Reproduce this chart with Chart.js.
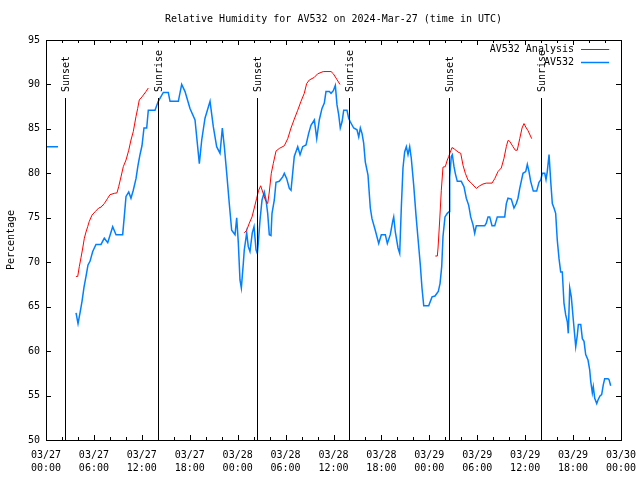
<!DOCTYPE html>
<html lang="en">
<head>
  <meta charset="UTF-8">
  <title>Relative Humidity AV532</title>
  <script src="https://cdn.jsdelivr.net/npm/chart.js"></script>
  <style>
    html, body { margin: 0; padding: 0; background: #fff; }
    canvas { display: block; }
  </style>
</head>
<body>
  <canvas id="rh" width="640" height="480"></canvas>

  <script>
    // hours since 2024-03-27 00:00 UTC
    const dayLabels = ['03/27', '03/27', '03/27', '03/27', '03/28', '03/28', '03/28', '03/28', '03/29', '03/29', '03/29', '03/29', '03/30'];
    const timeLabels = ['00:00', '06:00', '12:00', '18:00', '00:00', '06:00', '12:00', '18:00', '00:00', '06:00', '12:00', '18:00', '00:00'];

    const sunHours = [2.42, 14.06, 26.46, 37.98, 50.5, 62.02];
    const sunNames = ['Sunset', 'Sunrise', 'Sunset', 'Sunrise', 'Sunset', 'Sunrise'];

    // AV532 observations (null = gap)
    const obsHours = [0, 1.5, 1.6,
      3.76, 4.01, 4.26, 4.51, 4.76, 5.01, 5.26, 5.51, 5.85, 6.26, 6.89, 7.30, 7.73, 8.35, 8.77, 9.60, 9.80, 10.02,
      10.36, 10.64, 10.93, 11.27, 11.52, 11.77, 12.02, 12.27, 12.61, 12.81, 13.65, 14.06, 14.69, 15.31, 15.53, 16.57,
      16.99, 17.41, 18.03, 18.66, 19.20, 19.50, 19.91, 20.54, 20.95, 21.37, 21.79, 22.08, 22.33, 22.63, 22.95, 23.25,
      23.67, 23.88, 24.08, 24.29, 24.46, 24.71, 24.83, 25.13, 25.33, 25.54, 25.83, 26.05, 26.30, 26.46, 26.58, 26.80,
      27.05, 27.34, 27.55, 27.76, 27.96, 28.17, 28.30, 28.59, 28.80, 29.21, 29.64, 29.84, 30.14, 30.47, 30.68, 31.09,
      31.52, 31.81, 32.14, 32.56, 32.89, 33.18, 33.60, 33.90, 34.22, 34.56, 34.85, 35.06, 35.48, 35.69, 35.98, 36.23,
      36.44, 36.65, 36.85, 37.07, 37.28, 37.69, 37.90, 38.10, 38.53, 38.94, 39.16, 39.36, 39.57, 39.78, 39.98, 40.32,
      40.61, 40.82, 41.23, 41.66, 41.99, 42.49, 42.74, 43.11, 43.41, 43.54, 43.74, 44.08, 44.29, 44.49, 44.70, 44.91,
      45.12, 45.33, 45.54, 45.74, 46.04, 46.33, 46.58, 46.87, 47.08, 47.30, 47.92, 48.34, 48.71, 49.12, 49.34, 49.55,
      49.71, 49.96, 50.25, 50.50, 50.55, 50.75, 50.88, 51.09, 51.25, 51.50, 52.00, 52.34, 52.63, 52.93, 53.18, 53.47,
      53.68, 53.88, 54.93, 55.13, 55.35, 55.56, 55.85, 56.19, 56.51, 57.44, 57.64, 57.85, 58.26, 58.60, 58.89, 59.10,
      59.32, 59.73, 60.07, 60.27, 60.48, 60.69, 61.02, 61.44, 61.73, 61.95, 62.15, 62.45, 62.61, 62.77, 62.99, 63.20,
      63.40, 63.61, 63.82, 64.02, 64.24, 64.45, 64.65, 64.86, 65.07, 65.28, 65.40, 65.58, 65.78, 66.03, 66.33, 66.53,
      66.66, 66.96, 67.16, 67.37, 67.58, 67.87, 68.08, 68.21, 68.41, 68.53, 68.71, 68.96, 69.12, 69.37, 69.58, 69.78,
      69.96, 70.37, 70.50, 70.71];
    const obsValues = [83, 83, null,
      64.3, 63.1, 64.3, 65.6, 67.2, 68.4, 69.7, 70.1, 71.2, 72.0, 72.0, 72.7, 72.2, 74.0, 73.1, 73.1, 75.1, 77.4,
      77.9, 77.2, 78.1, 79.4, 80.9, 82.1, 83.1, 85.1, 85.1, 87.1, 87.1, 88.1, 89.1, 89.1, 88.1, 88.1,
      90.0, 89.2, 87.3, 86.0, 81.1, 83.75, 86.2, 88.1, 85.25, 83.0, 82.25, 85.1, 83.0, 80.0, 76.6, 73.6,
      73.1, 75.0, 72.2, 68.0, 67.1, 69.9, 71.4, 73.3, 71.75, 71.2, 73.3, 74.0, 71.4, 71.0, 72.1, 74.75,
      77.0, 77.9, 77.0, 75.5, 73.1, 73.0, 75.5, 77.0, 79.0, 79.1, 79.6, 80.0, 79.4, 78.3, 78.1, 81.9,
      83.0, 82.1, 83.0, 83.2, 84.5, 85.4, 86.0, 83.9, 86.0, 87.3, 87.9, 89.2, 89.2, 89.0, 89.3, 89.9,
      87.7, 86.6, 85.1, 85.8, 87.1, 87.1, 86.2, 85.8, 85.1, 84.9, 84.1, 85.1, 84.5, 83.4, 81.3, 79.8,
      76.1, 74.9, 73.6, 72.1, 73.1, 73.1, 72.1, 73.1, 74.6, 75.1, 73.4, 71.6, 71.0, 76.1, 80.6, 82.4,
      83.0, 82.1, 83.0, 81.7, 78.7, 75.3, 72.7, 69.7, 67.1, 65.1, 65.1, 66.1, 66.2, 66.7, 67.6, 69.5,
      72.9, 75.1, 75.5, 75.7, 79.6, 81.9, 82.1, 80.75, 80.0, 79.1, 79.1, 78.5, 77.2, 76.4, 75.1, 74.2,
      73.25, 74.1, 74.1, 74.4, 75.1, 75.1, 74.1, 74.1, 75.1, 75.1, 76.6, 77.2, 77.1, 76.1, 76.6, 77.2,
      78.3, 80.0, 80.2, 81.0, 80.2, 79.1, 78.0, 78.0, 79.0, 79.25, 80.0, 80.0, 79.3, 80.2, 82.1, 79.1,
      76.6, 76.1, 75.5, 72.5, 70.4, 68.9, 68.9, 65.4, 64.1, 63.3, 62.0, 67.1, 66.1, 63.5, 60.5, 61.8,
      63.0, 63.0, 61.4, 61.1, 59.6, 59.0, 57.9, 56.6, 55.3, 56.0, 54.7, 54.1, 54.5, 54.95, 55.1, 56.2,
      56.9, 56.9, 56.8, 56.1];

    // AV532 Analysis (null = gap)
    const anaHours = [3.76, 3.97, 4.17, 4.38, 4.60, 4.80, 5.01, 5.22, 5.42, 5.76, 6.17, 6.60, 6.89, 7.30, 7.73, 8.01,
      8.55, 8.89, 9.10, 9.39, 9.68, 10.02, 10.36, 10.64, 10.93, 11.27, 11.48, 11.68, 12.02, 12.52, 12.81, 12.9,
      24.83, 25.13, 25.46, 25.80, 26.08, 26.38, 26.63, 26.88, 27.14, 27.46, 27.76, 27.96, 28.21, 28.46, 28.80, 29.21,
      29.84, 30.27, 30.68, 31.09, 31.52, 31.93, 32.34, 32.64, 32.97, 33.60, 34.02, 34.72, 35.69, 35.98, 36.40, 36.81, 36.9,
      48.75, 49.00, 49.09, 49.30, 49.50, 49.71, 50.00, 50.25, 50.43, 50.59, 50.84, 51.18, 51.59, 51.93, 52.22, 52.51,
      52.84, 53.26, 53.88, 54.31, 54.72, 55.13, 55.85, 56.19, 56.60, 57.01, 57.35, 57.64, 57.85, 58.06, 58.48, 58.76,
      59.01, 59.32, 59.61, 59.85, 60.14, 60.36, 60.82];
    const anaValues = [68.4, 68.4, 69.5, 70.5, 71.6, 72.7, 73.4, 74.0, 74.6, 75.3, 75.7, 76.1, 76.2, 76.6, 77.2, 77.6,
      77.75, 77.8, 78.5, 79.6, 80.75, 81.5, 82.6, 83.75, 84.7, 86.4, 87.3, 88.25, 88.6, 89.2, 89.6, null,
      73.3, 73.6, 74.4, 75.1, 76.1, 77.2, 78.1, 78.6, 77.9, 77.0, 76.6, 77.9, 80.0, 81.1, 82.5, 82.8,
      83.1, 83.9, 85.1, 86.1, 87.1, 88.1, 89.0, 90.1, 90.5, 90.8, 91.2, 91.45, 91.45, 91.2, 90.6, 90.0, null,
      70.7, 70.7, 71.6, 74.75, 78.1, 80.7, 80.75, 81.5, 81.9, 82.3, 82.9, 82.7, 82.4, 82.25, 80.9, 80.0,
      79.25, 78.9, 78.3, 78.6, 78.8, 78.9, 78.9, 79.4, 80.2, 80.6, 81.7, 83.0, 83.7, 83.6, 83.0, 82.6,
      82.6, 83.9, 85.1, 85.6, 85.1, 84.8, 83.9];

    const monoFont = { family: 'DejaVu Sans Mono', size: 10, weight: 'normal' };

    function pairs(xs, ys) {
      return xs.map((x, i) => ({ x: x, y: ys[i] }));
    }

    // gnuplot-ish frame, inward ticks, sunrise/sunset markers and key
    const gnuplotDecor = {
      id: 'gnuplotDecor',
      afterDatasetsDraw(chart) {
        const ctx = chart.ctx;
        const a = chart.chartArea;
        const xs = chart.scales.x, ys = chart.scales.y;
        ctx.save();
        ctx.strokeStyle = '#000';
        ctx.lineWidth = 1;

        ctx.strokeRect(a.left + 0.5, a.top + 0.5, a.right - a.left, a.bottom - a.top);

        ctx.beginPath();
        for (let h = 0; h <= 72; h += 2) {
          const px = Math.round(xs.getPixelForValue(h)) + 0.5;
          const len = h % 6 === 0 ? 5 : 3;
          ctx.moveTo(px, a.bottom); ctx.lineTo(px, a.bottom - len);
          ctx.moveTo(px, a.top); ctx.lineTo(px, a.top + len);
        }
        for (let v = 50; v <= 95; v += 5) {
          const py = Math.round(ys.getPixelForValue(v)) + 0.5;
          ctx.moveTo(a.left, py); ctx.lineTo(a.left + 5, py);
          ctx.moveTo(a.right, py); ctx.lineTo(a.right - 5, py);
        }
        ctx.stroke();

        ctx.font = '10px "DejaVu Sans Mono"';
        ctx.fillStyle = '#000';
        sunHours.forEach((h, i) => {
          const px = Math.round(xs.getPixelForValue(h)) + 0.5;
          ctx.beginPath();
          ctx.moveTo(px, a.bottom);
          ctx.lineTo(px, a.top + 58);
          ctx.stroke();
          ctx.save();
          ctx.translate(px, a.top + 52);
          ctx.rotate(-Math.PI / 2);
          ctx.textAlign = 'left';
          ctx.textBaseline = 'middle';
          ctx.fillText(sunNames[i], 0, 1);
          ctx.restore();
        });

        const keys = [['AV532 Analysis', '#ff0000', 1], ['AV532', '#0080ff', 1.5]];
        ctx.textAlign = 'right';
        ctx.textBaseline = 'middle';
        keys.forEach((k, i) => {
          const y = a.top + 9 + i * 13;
          ctx.fillStyle = '#000';
          ctx.fillText(k[0], a.right - 47, y);
          ctx.strokeStyle = k[1];
          ctx.lineWidth = k[2];
          ctx.beginPath();
          ctx.moveTo(a.right - 40, y + 0.5);
          ctx.lineTo(a.right - 12, y + 0.5);
          ctx.stroke();
        });
        ctx.restore();
      }
    };

    new Chart(document.getElementById('rh'), {
      type: 'line',
      data: {
        datasets: [
          { label: 'AV532', data: pairs(obsHours, obsValues), borderColor: '#0080ff', borderWidth: 1.5,
            pointRadius: 0, fill: false, tension: 0, spanGaps: false, order: 2 },
          { label: 'AV532 Analysis', data: pairs(anaHours, anaValues), borderColor: '#ff0000', borderWidth: 1,
            pointRadius: 0, fill: false, tension: 0, spanGaps: false, order: 1 }
        ]
      },
      options: {
        responsive: false,
        animation: false,
        devicePixelRatio: 1,
        layout: { padding: { left: 0, right: 19, top: 0, bottom: 0 } },
        plugins: {
          legend: { display: false },
          tooltip: { enabled: false },
          title: {
            display: true,
            text: 'Relative Humidity for AV532 on 2024-Mar-27 (time in UTC)',
            font: monoFont,
            color: '#000',
            fullSize: false,
            padding: { top: 13, bottom: 15 }
          }
        },
        scales: {
          x: {
            type: 'linear',
            min: 0,
            max: 72,
            grid: { display: false, drawTicks: false },
            border: { display: false },
            ticks: {
              stepSize: 6,
              autoSkip: false,
              maxRotation: 0,
              padding: 9,
              color: '#000',
              font: { family: 'DejaVu Sans Mono', size: 10, lineHeight: 1.3 },
              callback: (v) => {
                const i = Math.round(v / 6);
                return [dayLabels[i], timeLabels[i]];
              }
            },
            afterFit: (s) => { s.height = 40; s.paddingLeft = 0; s.paddingRight = 0; }
          },
          y: {
            min: 50,
            max: 95,
            grid: { display: false, drawTicks: false },
            border: { display: false },
            ticks: { stepSize: 5, padding: 6, color: '#000', font: monoFont },
            title: { display: true, text: 'Percentage', color: '#000', font: monoFont, padding: { top: 5, bottom: 0 } },
            afterFit: (s) => { s.width = 46; s.paddingTop = 0; s.paddingBottom = 0; }
          }
        }
      },
      plugins: [gnuplotDecor]
    });
  </script>
</body>
</html>
